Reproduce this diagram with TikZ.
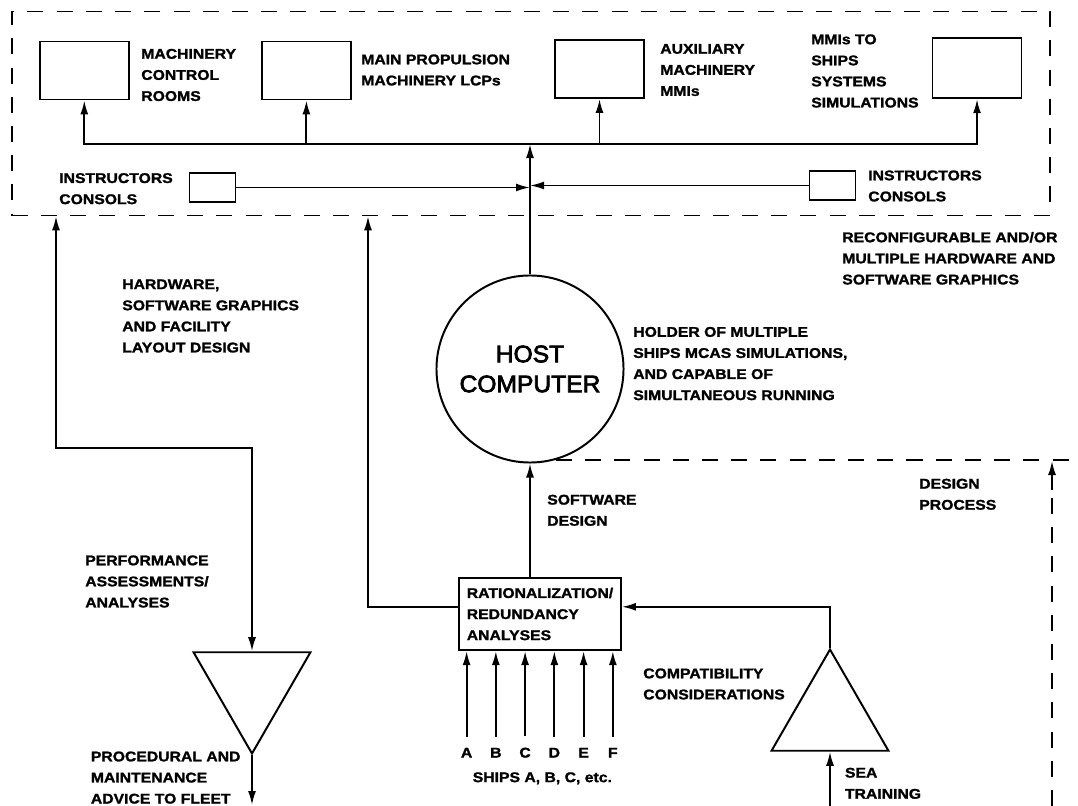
\documentclass[tikz,border=0pt]{standalone}
\usepackage{fontspec}
\newfontfamily\lblfont{Liberation Sans}[FakeStretch=1.12,BoldFeatures={FakeBold=1.5}]
\newfontfamily\hostfont{Liberation Sans}[FakeStretch=1.03,FakeBold=3]
\usepackage{tikz}
\usetikzlibrary{arrows.meta,positioning,shapes.geometric}

\begin{document}
\begin{tikzpicture}[x=0.025cm,y=-0.025cm,
  font=\lblfont\bfseries\fontsize{10}{15}\selectfont,
  unit/.style={draw,line width=1.3pt,minimum width=2.225cm,minimum height=1.45cm,inner sep=0pt},
  console/.style={draw,line width=1.3pt,minimum width=1.15cm,minimum height=0.72cm,inner sep=0pt},
  lab/.style={anchor=west,align=left,inner sep=0pt},
  region/.style={line width=1pt,dash pattern=on 0.4cm off 0.33cm},
  tri/.style={draw,line width=1.4pt,regular polygon,regular polygon sides=3,minimum size=3.375cm,inner sep=0pt},
  link/.style={line width=1.3pt},
  arr/.style={link,-{Latex[length=3.5mm,width=2mm]}},
  dbl/.style={link,{Latex[length=3.5mm,width=2mm]}-{Latex[length=3.5mm,width=2mm]}}]
\useasboundingbox (0,0) rectangle (1078,806);
\node[draw,region,minimum width=25.95cm,minimum height=5.1cm,inner sep=0pt] (sim) at (531,113.6) {};
\node[unit] (mcr) at (84.3,70.5) {};
\node[unit] (lcp) at (306.4,70.5) {};
\node[unit] (aux) at (599.5,69) {};
\node[unit,minimum height=1.5cm] (mmi) at (977,68.3) {};
\node[console] (icL) at (212.5,187.5) {};
\node[console] (icR) at (832.5,185.5) {};
\node[lab] (mcrlab) at (141,75) {MACHINERY\\CONTROL\\ROOMS};
\node[lab] (lcplab) at (361,70) {MAIN PROPULSION\\MACHINERY LCPs};
\node[lab] (auxlab) at (660,70) {AUXILIARY\\MACHINERY\\MMIs};
\node[lab] (mmilab) at (811,71) {MMIs TO\\SHIPS\\SYSTEMS\\SIMULATIONS};
\node[lab] (iclabL) at (59,188.7) {INSTRUCTORS\\CONSOLS};
\node[lab] (iclabR) at (868,186) {INSTRUCTORS\\CONSOLS};
\node[lab] (reconf) at (842,258.3) {RECONFIGURABLE AND/OR\\MULTIPLE HARDWARE AND\\SOFTWARE GRAPHICS};
\node[circle,draw,line width=1.4pt,minimum size=4.675cm,inner sep=0pt,align=center,
  font=\hostfont\fontsize{17}{21.3}\selectfont] (host) at (530,369) {HOST\\COMPUTER};
\node[lab] (hwlab) at (122,316) {HARDWARE,\\SOFTWARE GRAPHICS\\AND FACILITY\\LAYOUT DESIGN};
\node[lab] (holder) at (633,363.6) {HOLDER OF MULTIPLE\\SHIPS MCAS SIMULATIONS,\\AND CAPABLE OF\\SIMULTANEOUS RUNNING};
\node[lab] (dplab) at (919,494.3) {DESIGN\\PROCESS};
\node[lab] (swlab) at (547,510.3) {SOFTWARE\\DESIGN};
\node[draw,line width=1.3pt,align=left,minimum width=4.05cm,minimum height=1.81cm,inner sep=0pt] (rat) at (540,614) {RATIONALIZATION/\\REDUNDANCY\\ANALYSES};
\node[lab] (perf) at (85,581.5) {PERFORMANCE\\ASSESSMENTS/\\ANALYSES};
\node[tri,shape border rotate=180] (advice) at (252,686) {};
\node[tri] (compat) at (830,717) {};
\node[lab] (compatlab) at (643,684) {COMPATIBILITY\\CONSIDERATIONS};
\node[lab] (proc) at (90.6,777.6) {PROCEDURAL AND\\MAINTENANCE\\ADVICE TO FLEET};
\node[lab] (sealab) at (844.7,783.3) {SEA\\TRAINING};
\node[lab] (ships) at (472.5,778.3) {SHIPS A, B, C, etc.};
\coordinate (bus) at (530,144);
\coordinate (hub) at (530,187);
\coordinate (hwbend) at (56,448);
\coordinate (gfx) at (368,607);
\coordinate (fleet) at (252,805);
\coordinate (sea) at (830,806);
\coordinate (dpL) at (556,460);
\coordinate (dpR) at (1078,460);
\coordinate (dpT) at (1052,461);
\coordinate (dpM) at (1052,490);
\coordinate (dpB) at (1052,806);
\draw[arr] (host.north) -- (bus);
\draw[arr] (bus) -| (mcr.south);
\draw[arr] (bus) -| (mmi.south);
\draw[arr] (bus -| lcp.south) -- (lcp.south);
\draw[arr] (bus -| aux.south) -- (aux.south);
\draw[arr] (icL.east) -- (icL.east -| hub);
\draw[arr] (icR.west) -- (icR.west -| hub);
\draw[dbl] (sim.south -| hwbend) -- (hwbend) -| (advice.north);
\draw[arr] ([yshift=0.18cm]rat.west) -| (sim.south -| gfx);
\draw[arr] (rat.north -| host.south) -- (host.south);
\draw[arr] (advice.south) -- (fleet);
\draw[arr] (compat.north) |- ([yshift=0.18cm]rat.east);
\draw[arr] (sea) -- (compat.south);
\foreach \s [count=\i from 0] in {A,B,C,D,E,F}{
  \node[inner sep=0pt] (ship\s) at ({466.6+29.25*\i},752.7) {\s};
  \draw[arr] ([yshift=0.275cm]ship\s.north) -- (ship\s.north |- rat.south);
}
\draw[region] (dpL) -- (dpR);
\draw[region] (dpB) -- (dpM);
\draw[arr] (dpM) -- (dpT);
\end{tikzpicture}
\end{document}
